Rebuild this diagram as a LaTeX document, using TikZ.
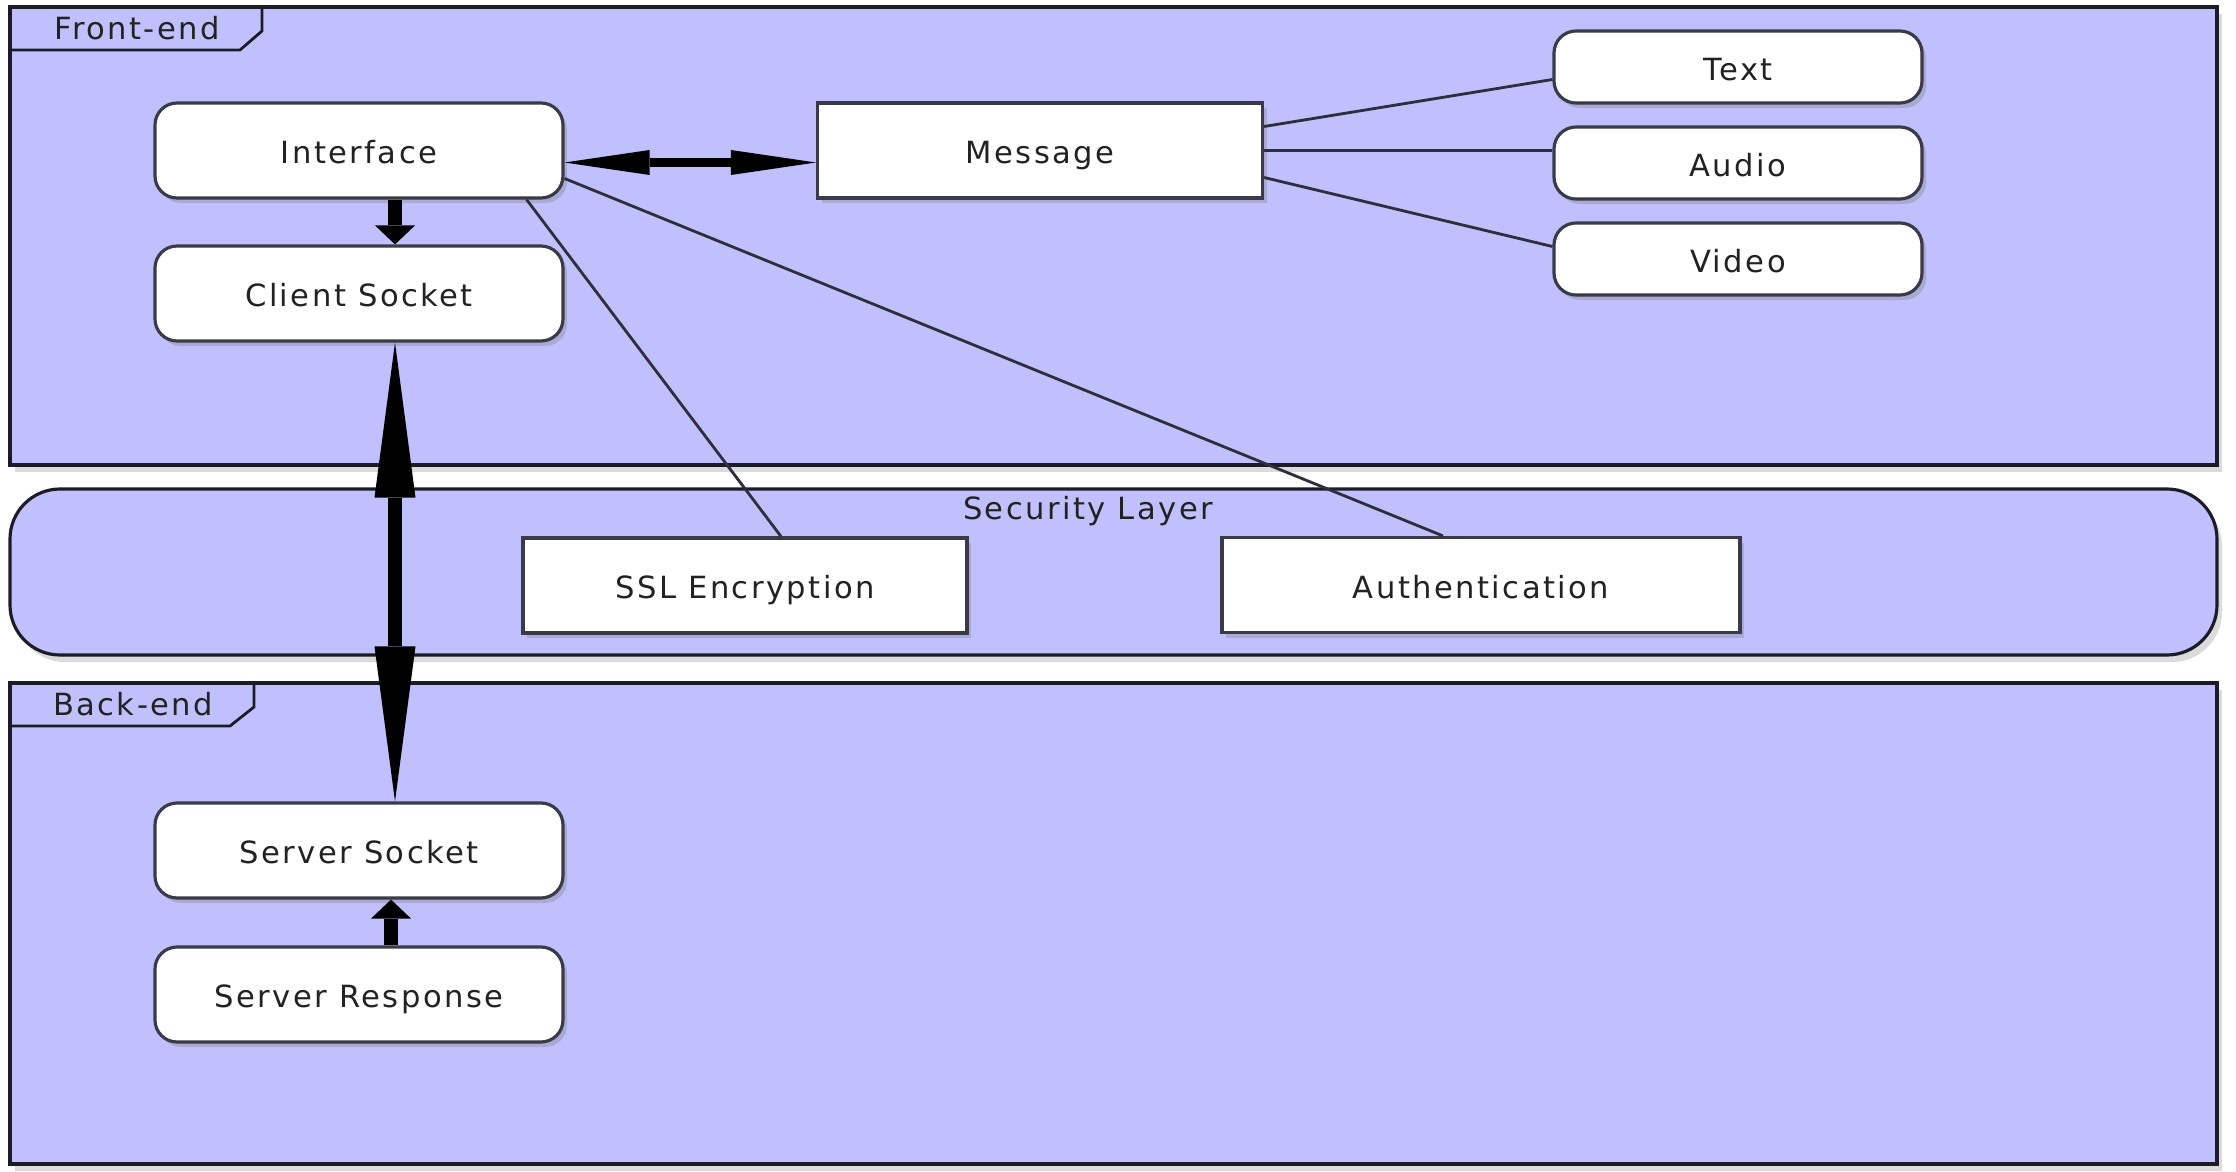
\documentclass[tikz,border=0pt]{standalone}
\usepackage{fontspec}
\setmainfont{DejaVu Sans}[LetterSpace=8]
\usepackage{tikz}
\usepackage{xcolor}
\usetikzlibrary{arrows.meta,positioning,shadows}
\definecolor{lilac}{HTML}{C0C0FF}
\definecolor{ink}{HTML}{1C1C28}
\definecolor{edge}{HTML}{3A3A48}
\definecolor{wire}{HTML}{2E2E3C}
\definecolor{label}{HTML}{222222}
\tikzset{
  layer/.style={draw=ink,fill=lilac,line width=0.9pt,
                drop shadow={shadow xshift=0.5mm,shadow yshift=-0.7mm,fill=black!40,opacity=0.35}},
  tabline/.style={draw=ink,line width=0.8pt},
  tablabel/.style={font=\fontsize{8.7}{10}\selectfont,text=label,inner sep=0pt},
  roundbox/.style={draw=edge,fill=white,line width=0.9pt,rounded corners=0.22cm,
                   minimum width=4.08cm,minimum height=0.95cm,inner sep=0pt,
                   text height=7.5pt,text depth=0pt,
                   font=\fontsize{8.7}{10}\selectfont,text=label,
                   drop shadow={shadow xshift=0.4mm,shadow yshift=-0.5mm,fill=black!50,opacity=0.35}},
  squarebox/.style={draw=edge,fill=white,line width=0.9pt,
                    minimum width=4.4cm,minimum height=0.95cm,inner sep=0pt,
                    text height=7.5pt,text depth=0pt,
                    font=\fontsize{8.7}{10}\selectfont,text=label,
                    drop shadow={shadow xshift=0.4mm,shadow yshift=-0.5mm,fill=black!50,opacity=0.35}},
  mediabox/.style={roundbox,minimum width=3.68cm,minimum height=0.72cm},
  wire/.style={draw=wire,line width=0.8pt},
  shortarr/.style={-{Triangle[length=1.9mm,width=4mm,line width=0pt]},line width=4pt},
  longarr/.style={{Triangle[length=15.5mm,width=4.1mm,line width=0pt]}-{Triangle[length=15.5mm,width=4.1mm,line width=0pt]},line width=4pt},
  sidearr/.style={{Triangle[length=8.5mm,width=2.5mm,line width=0pt]}-{Triangle[length=8.5mm,width=2.5mm,line width=0pt]},line width=2.6pt}
}

\begin{document}
\begin{tikzpicture}[x=1cm,y=1cm]
  \useasboundingbox[fill=white] (0,0) rectangle (22.36,-11.72);

  % layers
  \path[layer] (0.10,-0.07) rectangle (22.17,-4.65);
  \draw[tabline] (0.10,-0.50) -- (2.40,-0.50) -- (2.62,-0.31) -- (2.62,-0.07);
  \node[tablabel] (fronttag) at (1.37,-0.28) {Front-end};

  \path[layer,rounded corners=0.5cm] (0.10,-4.89) rectangle (22.17,-6.55);
  \node[tablabel] (sectag) at (10.88,-5.11) {Security Layer};

  \path[layer] (0.10,-6.83) rectangle (22.17,-11.64);
  \draw[tabline] (0.10,-7.26) -- (2.30,-7.26) -- (2.54,-7.07) -- (2.54,-6.83);
  \node[tablabel] (backtag) at (1.33,-7.04) {Back-end};

  % front-end
  \node[roundbox] (iface) at (3.59,-1.505) {Interface};
  \node[roundbox] (client) at (3.59,-2.935) {Client Socket};
  \node[squarebox,minimum width=4.45cm] (msg) at (10.40,-1.505) {Message};
  \node[mediabox] (text) at (17.38,-0.67) {Text};
  \node[mediabox] (audio) at (17.38,-1.63) {Audio};
  \node[mediabox] (video) at (17.38,-2.59) {Video};

  % security
  \node[squarebox,minimum width=4.44cm] (ssl) at (7.45,-5.855) {SSL Encryption};
  \node[squarebox,minimum width=5.18cm] (auth) at (14.81,-5.85) {Authentication};

  % back-end
  \node[roundbox] (srvsock) at (3.59,-8.505) {Server Socket};
  \node[roundbox] (srvresp) at (3.59,-9.945) {Server Response};

  \draw[wire] ([yshift=2.4mm]msg.east) -- ([yshift=-1.25mm]text.west);
  \draw[wire] (msg.east) -- (msg.east -| audio.west);
  \draw[wire] ([yshift=-2.7mm]msg.east) -- ([yshift=1.25mm]video.west);
  \draw[wire] ([xshift=-3.8mm]iface.south east) -- ([xshift=3.6mm]ssl.north);
  \draw[wire] ([yshift=-2.8mm]iface.east) -- ([xshift=-3.8mm]auth.north);

  \draw[sidearr] ([yshift=-1.2mm]iface.east) -- ([yshift=-1.2mm]msg.west);
  \draw[shortarr] ([xshift=3.6mm]iface.south) -- ([xshift=3.6mm]client.north);
  \draw[longarr] ([xshift=3.6mm]client.south) -- ([xshift=3.6mm]srvsock.north);
  \draw[shortarr] ([xshift=3.2mm]srvresp.north) -- ([xshift=3.2mm]srvsock.south);
\end{tikzpicture}
\end{document}
